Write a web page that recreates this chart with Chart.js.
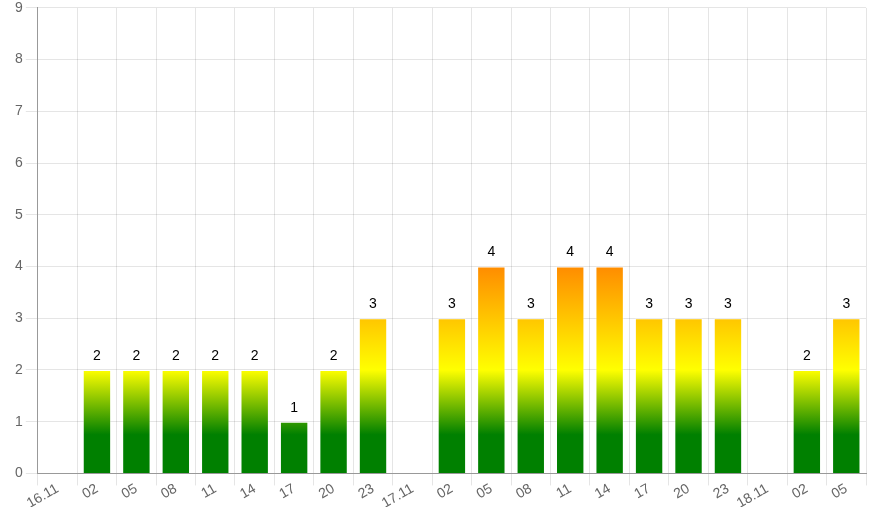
<!DOCTYPE html>
<html>
<head>
<meta charset="utf-8">
<script src="https://cdn.jsdelivr.net/npm/chart.js@4/dist/chart.umd.min.js"></script>
<style>
    html, body { margin: 0; padding: 0; background: #fff; }
    #wrap { width: 875px; height: 525px; }
</style>
</head>
<body>
<div id="wrap"><canvas id="barChart"></canvas></div>
<script>
// Chart data
const labels = ['16.11', '02', '05', '08', '11', '14', '17', '20', '23',
                '17.11', '02', '05', '08', '11', '14', '17', '20', '23',
                '18.11', '02', '05'];
const counts = [0, 2, 2, 2, 2, 2, 1, 2, 3, 0, 3, 4, 3, 4, 4, 3, 3, 3, 0, 2, 3];
const yTicks = [0, 1, 2, 3, 4, 5, 6, 7, 8, 9];

// Gradient colour stops in value space (green -> yellow -> orange)
const gradientStops = [
    { value: 0, color: '#008000' },
    { value: 0.75, color: '#008000' },
    { value: 2, color: '#ffff00' },
    { value: 4, color: '#ff8c00' }
];

function barGradient(context) {
    const chart = context.chart;
    const area = chart.chartArea;
    const y = chart.scales.y;
    if (!area || !y) return '#008000';
    const y0 = y.getPixelForValue(0);
    const yTop = y.getPixelForValue(yTicks[yTicks.length - 1]);
    const g = chart.ctx.createLinearGradient(0, y0, 0, yTop);
    const max = yTicks[yTicks.length - 1];
    gradientStops.forEach(s => g.addColorStop(s.value / max, s.color));
    return g;
}

// Value labels above bars
const valueLabels = {
    id: 'valueLabels',
    afterDatasetsDraw(chart) {
        const ctx = chart.ctx;
        const meta = chart.getDatasetMeta(0);
        ctx.save();
        ctx.fillStyle = '#000';
        ctx.font = '14px Arial';
        ctx.textAlign = 'center';
        ctx.textBaseline = 'bottom';
        meta.data.forEach((bar, i) => {
            if (!counts[i]) return;
            ctx.fillText(String(counts[i]), bar.x, bar.y - 7);
        });
        ctx.restore();
    }
};

Chart.defaults.font.family = 'Arial, "Liberation Sans", sans-serif';
Chart.defaults.color = '#666';

new Chart(document.getElementById('barChart'), {
    type: 'bar',
    data: {
        labels: labels,
        datasets: [{
            data: counts,
            backgroundColor: barGradient,
            borderColor: 'rgba(255,255,255,0.35)',
            borderWidth: 1
        }]
    },
    options: {
        responsive: true,
        maintainAspectRatio: false,
        animation: false,
        layout: { padding: { left: 12, right: 9, bottom: 18 } },
        plugins: { legend: { display: false }, tooltip: { enabled: false } },
        scales: {
            x: {
                grid: { color: 'rgba(0,0,0,0.1)', tickLength: 12 },
                border: { color: '#999' },
                ticks: { font: { size: 14 }, padding: -5, minRotation: 30, maxRotation: 30, autoSkip: false }
            },
            y: {
                min: yTicks[0],
                max: yTicks[yTicks.length - 1],
                afterBuildTicks: axis => { axis.ticks = yTicks.map(v => ({ value: v })); },
                grid: { color: 'rgba(0,0,0,0.1)', tickLength: 12 },
                border: { color: '#999' },
                ticks: { font: { size: 14, lineHeight: 0.7 } }
            }
        }
    },
    plugins: [valueLabels]
});
</script>
</body>
</html>
